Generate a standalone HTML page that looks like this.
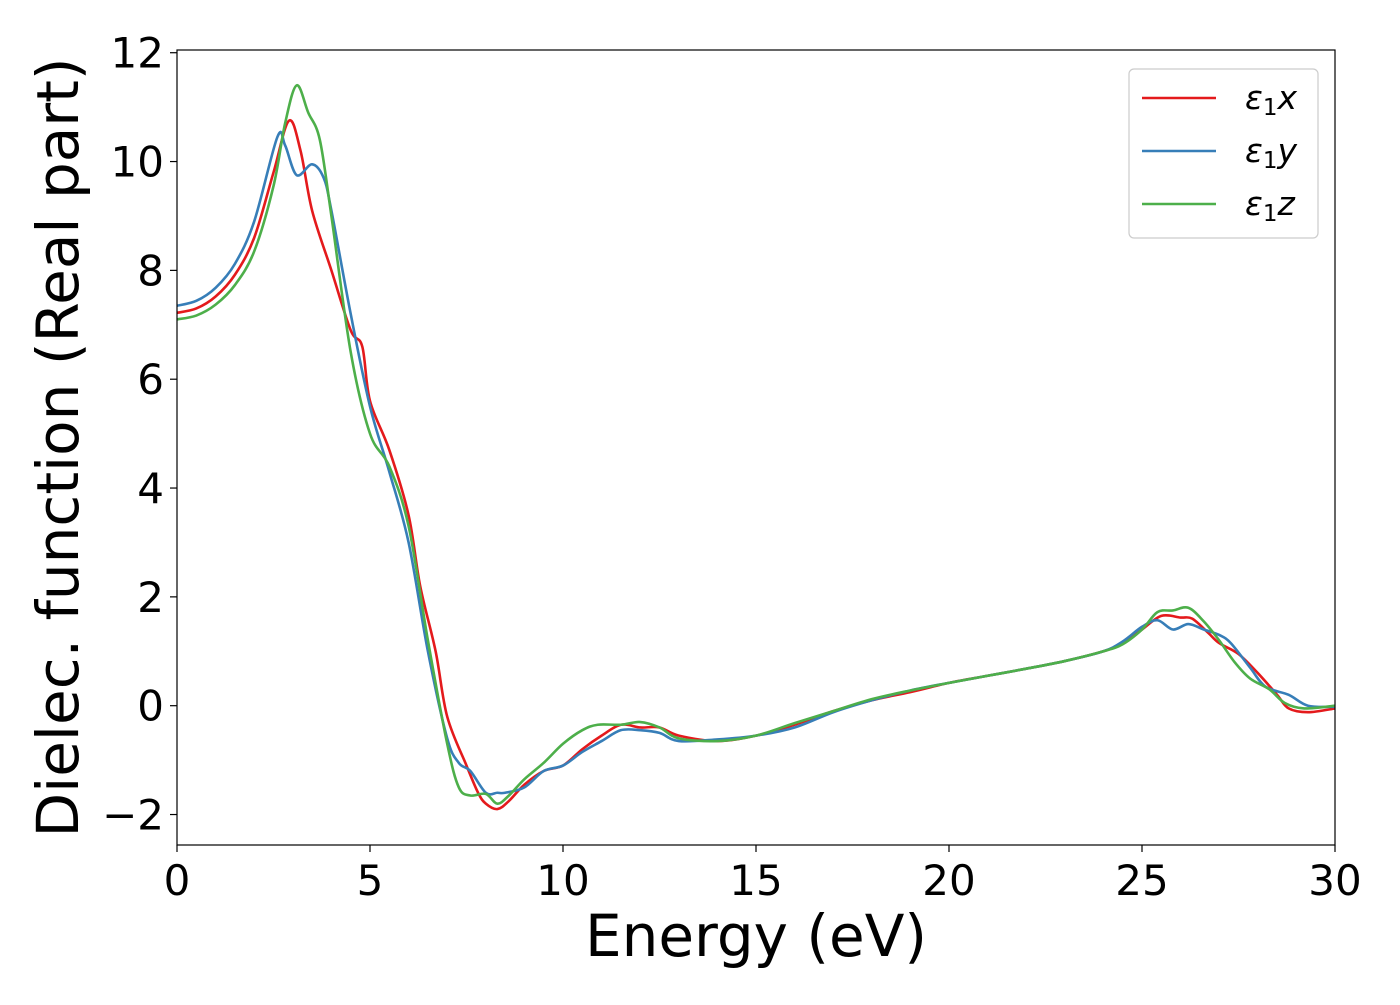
<!DOCTYPE html>
<html><head><meta charset="utf-8"><style>
body{margin:0;background:#fff}
svg text{font-family:"DejaVu Sans","Liberation Sans",sans-serif}
</style></head><body>
<svg id="chart" width="1400" height="1000" xmlns="http://www.w3.org/2000/svg">
<g id="plot"></g>
</svg>
<script>
const xTicks=[0,5,10,15,20,25,30];
const yTicks=[-2,0,2,4,6,8,10,12];
const yTickLabels=["\u22122","0","2","4","6","8","10","12"];
const seriesNames=["x","y","z"];
const redX=[0,0.5,1,1.5,2,2.5,2.9,3.2,3.5,4,4.5,4.8,5,5.5,6,6.3,6.7,7,7.5,7.8,8,8.3,8.6,9,9.5,10,10.5,11,11.5,12,12.5,13,14,15,16,17,18,19,20,21,22,23,24,24.5,25,25.5,26,26.3,26.7,27,27.5,28,28.5,28.8,29.3,30];
const redY=[7.22,7.3,7.52,7.92,8.6,9.8,10.75,10.2,9.1,8.0,6.9,6.6,5.6,4.7,3.5,2.2,1.0,-0.2,-1.1,-1.6,-1.8,-1.9,-1.75,-1.45,-1.2,-1.1,-0.8,-0.55,-0.35,-0.4,-0.4,-0.55,-0.65,-0.55,-0.35,-0.1,0.1,0.25,0.42,0.55,0.68,0.82,1.0,1.15,1.4,1.65,1.62,1.6,1.35,1.15,0.95,0.6,0.2,-0.05,-0.12,-0.05];
const blueX=[0,0.5,1,1.5,2,2.6,2.8,3.1,3.5,3.8,4,4.5,5,5.5,6,6.5,7,7.3,7.6,8,8.3,8.5,9,9.5,10,10.5,11,11.5,12,12.5,13,14,15,16,17,18,19,20,21,22,23,24,24.5,25,25.4,25.8,26.2,26.6,27,27.3,27.8,28.2,28.8,29.3,30];
const blueY=[7.35,7.44,7.68,8.12,8.9,10.45,10.3,9.75,9.95,9.7,9.1,7.2,5.5,4.3,3.0,1.0,-0.6,-1.05,-1.2,-1.6,-1.6,-1.6,-1.5,-1.2,-1.1,-0.85,-0.65,-0.45,-0.45,-0.5,-0.65,-0.62,-0.55,-0.4,-0.12,0.1,0.28,0.42,0.55,0.68,0.82,1.0,1.18,1.45,1.57,1.4,1.5,1.4,1.3,1.15,0.7,0.35,0.2,0.0,-0.02];
const greenX=[0,0.5,1,1.5,2,2.5,2.8,3.1,3.4,3.7,4,4.5,5,5.5,6,6.5,7,7.3,7.6,8,8.3,8.6,9,9.5,10,10.5,10.9,11.5,12,12.5,13,14,15,16,17,18,19,20,21,22,23,24,24.5,25,25.4,25.8,26.2,26.6,27,27.4,27.8,28.3,28.7,29.2,30];
const greenY=[7.1,7.17,7.37,7.73,8.35,9.55,10.7,11.4,10.9,10.4,9.0,6.5,5.0,4.4,3.3,1.2,-0.7,-1.5,-1.65,-1.62,-1.8,-1.65,-1.35,-1.05,-0.7,-0.45,-0.35,-0.35,-0.3,-0.4,-0.6,-0.65,-0.55,-0.32,-0.1,0.12,0.28,0.42,0.55,0.68,0.82,1.0,1.13,1.4,1.72,1.75,1.8,1.55,1.2,0.8,0.5,0.3,0.05,-0.05,0.0];

const L=177,R=1335,T=50,B=845,xMin=0,xMax=30,yMin=-2.56,yMax=12.05;
const sx=v=>L+(v-xMin)/(xMax-xMin)*(R-L);
const sy=v=>B-(v-yMin)/(yMax-yMin)*(B-T);
const NS="http://www.w3.org/2000/svg";
const g=document.getElementById('plot');
function mk(tag,attrs,parent){const e=document.createElementNS(NS,tag);for(const k in attrs)e.setAttribute(k,attrs[k]);(parent||g).appendChild(e);return e;}
function smooth(xs,ys){const p=xs.map((x,i)=>[sx(x),sy(ys[i])]);let d=`M${p[0][0]},${p[0][1]}`;
for(let i=0;i<p.length-1;i++){const p0=p[i-1]||p[i],p1=p[i],p2=p[i+1],p3=p[i+2]||p2;
d+=` C${p1[0]+(p2[0]-p0[0])/6},${p1[1]+(p2[1]-p0[1])/6} ${p2[0]-(p3[0]-p1[0])/6},${p2[1]-(p3[1]-p1[1])/6} ${p2[0]},${p2[1]}`;}return d;}
const series=[[redX,redY,"#e41a1c"],[blueX,blueY,"#377eb8"],[greenX,greenY,"#4daf4a"]];
series.forEach((s,i)=>{const e=mk('path',{d:smooth(s[0],s[1]),fill:'none',stroke:s[2],'stroke-width':2.6});

});
const frame=mk('rect',{x:L,y:T,width:R-L,height:B-T,fill:'none',stroke:'#000','stroke-width':1.2});


xTicks.forEach(t=>{mk('line',{x1:sx(t),x2:sx(t),y1:B,y2:B+7,stroke:'#000','stroke-width':1.2});
const e=mk('text',{x:sx(t),y:B+50,'text-anchor':'middle','font-size':42});e.textContent=t;

});
yTicks.forEach((t,i)=>{mk('line',{x1:L-7,x2:L,y1:sy(t),y2:sy(t),stroke:'#000','stroke-width':1.2});
const e=mk('text',{x:L-13,y:sy(t)+15,'text-anchor':'end','font-size':42});e.textContent=yTickLabels[i];

});
const xt=mk('text',{x:(L+R)/2,y:956,'text-anchor':'middle','font-size':58});xt.textContent='Energy (eV)';


const yt=mk('text',{x:0,y:0,'text-anchor':'middle','font-size':58,transform:`translate(78,${(T+B)/2}) rotate(-90)`});yt.textContent='Dielec. function (Real part)';


const lg=mk('g',{});


mk('rect',{x:1129,y:69,width:189,height:169,rx:5,fill:'#fff',stroke:'#ccc','stroke-width':1.2},lg);
series.forEach((s,i)=>{const y=98+53*i;
const ln=mk('line',{x1:1142,x2:1216,y1:y,y2:y,stroke:s[2],'stroke-width':2.6},lg);


const t=mk('text',{x:1245,y:y+11,'font-size':33,'font-style':'italic'},lg);
t.innerHTML='ε<tspan font-style="normal" font-size="23" dy="6">1</tspan><tspan dy="-6">'+seriesNames[i]+'</tspan>';

});
</script>
</body></html>
